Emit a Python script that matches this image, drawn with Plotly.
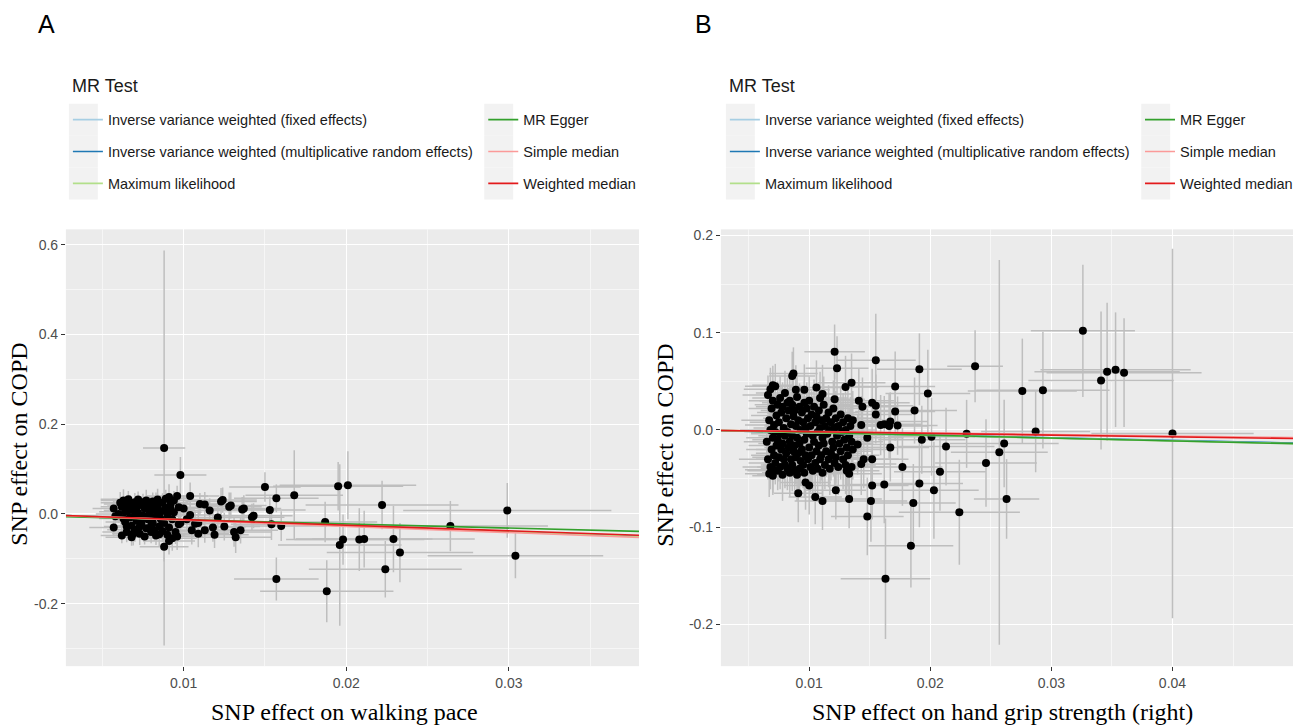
import plotly.graph_objects as go

W, H = 1298, 727
SANS = "Liberation Sans, Arial, sans-serif"
SERIF = "Liberation Serif, Times New Roman, serif"

# ---------------- MR methods ----------------
methods = [
    "Inverse variance weighted (fixed effects)",
    "Inverse variance weighted (multiplicative random effects)",
    "Maximum likelihood",
    "MR Egger",
    "Simple median",
    "Weighted median",
]
method_colors = ["#A6CEE3", "#1F78B4", "#B2DF8A", "#33A02C", "#FB9A99", "#E31A1C"]

# Panel A: walking pace -> COPD
a_intercept = [0.0, 0.0, 0.0, -0.0035, 0.0, 0.0]
a_slope = [-1.31, -1.31, -1.32, -0.93, -1.38, -1.25]

a_x = [
    0.0088, 0.0098, 0.0104, 0.0110, 0.0113, 0.0123, 0.0128, 0.0136, 0.0142, 0.0150,
    0.0157, 0.0168, 0.0153, 0.0154, 0.0160, 0.0187, 0.0195, 0.0201, 0.0222, 0.0264,
    0.0299, 0.0304, 0.0198, 0.0196, 0.0208, 0.0211, 0.0229, 0.0233, 0.0224, 0.0157,
    0.0188, 0.0091, 0.0097, 0.0104, 0.0107, 0.0105, 0.0109, 0.0113, 0.0118, 0.0119,
    0.0125, 0.0131, 0.0132, 0.0091, 0.0093, 0.0088, 0.0096, 0.0097, 0.0085, 0.0135,
    0.0143, 0.0129, 0.0137, 0.0124, 0.0100, 0.0092, 0.0098, 0.0109, 0.0116, 0.0121,
    0.0102,
    0.0057, 0.0058, 0.0061, 0.0057, 0.0062, 0.0063, 0.0064, 0.0064, 0.0065, 0.0066,
    0.0066, 0.0067, 0.0068, 0.0068, 0.0069, 0.0070, 0.0070, 0.0071, 0.0072, 0.0072,
    0.0073, 0.0074, 0.0074, 0.0075, 0.0076, 0.0076, 0.0077, 0.0077, 0.0078, 0.0079,
    0.0079, 0.0080, 0.0081, 0.0081, 0.0082, 0.0083, 0.0083, 0.0084, 0.0084, 0.0085,
    0.0086, 0.0086, 0.0087, 0.0087, 0.0088, 0.0089, 0.0089, 0.0090, 0.0091, 0.0092,
    0.0093, 0.0094, 0.0094, 0.0095, 0.0096, 0.0062, 0.0063, 0.0065, 0.0067, 0.0069,
    0.0071, 0.0073, 0.0075, 0.0078, 0.0080, 0.0082, 0.0085, 0.0088, 0.0090, 0.0060,
    0.0066, 0.0070, 0.0074, 0.0079, 0.0083,
]
a_y = [
    0.147, 0.087, 0.040, 0.022, 0.021, 0.028, 0.016, 0.010, -0.007, 0.060,
    0.035, 0.042, 0.009, -0.023, -0.027, -0.018, 0.062, 0.064, 0.020, -0.027,
    0.008, -0.093, -0.057, -0.069, -0.057, -0.056, -0.056, -0.086, -0.123, -0.145,
    -0.172, 0.038, 0.015, -0.002, -0.022, -0.036, -0.044, -0.036, -0.030, -0.046,
    -0.028, -0.040, -0.052, -0.060, -0.054, -0.073, -0.050, -0.023, -0.045, -0.036,
    -0.004, 0.019, 0.012, 0.031, 0.012, 0.011, -0.020, -0.020, 0.008, -0.008,
    -0.012,
    0.012, -0.005, 0.025, -0.030, -0.048, 0.030, 0.005, -0.018, -0.040, 0.018,
    0.033, -0.008, -0.026, -0.052, 0.010, 0.026, -0.035, -0.015, 0.032, 0.002,
    -0.044, 0.020, -0.022, -0.004, 0.012, -0.050, 0.030, -0.032, -0.012, 0.022,
    0.004, -0.040, 0.028, -0.020, 0.010, -0.005, -0.048, 0.032, 0.018, -0.028,
    -0.012, 0.006, 0.025, -0.038, -0.020, 0.014, 0.034, -0.002, -0.030, 0.022,
    -0.012, 0.030, 0.004, -0.040, 0.040, 0.016, -0.010, -0.028, 0.022, -0.044,
    0.014, -0.028, 0.026, 0.016, -0.026, -0.036, 0.000, 0.008, -0.046, 0.000,
    0.008, -0.002, -0.012, -0.004, 0.022,
]
a_se_x = [
    0.0013, 0.0016, 0.0018, 0.0020, 0.0018, 0.0022, 0.0020, 0.0021, 0.0020, 0.0022,
    0.0026, 0.0030, 0.0022, 0.0025, 0.0028, 0.0032, 0.0040, 0.0042, 0.0047, 0.0060,
    0.0064, 0.0054, 0.0035, 0.0038, 0.0040, 0.0042, 0.0050, 0.0045, 0.0047, 0.0026,
    0.0041, 0.0015, 0.0016, 0.0018, 0.0017, 0.0018, 0.0019, 0.0020, 0.0020, 0.0021,
    0.0022, 0.0023, 0.0022, 0.0016, 0.0015, 0.0015, 0.0016, 0.0016, 0.0014, 0.0023,
    0.0024, 0.0022, 0.0023, 0.0021, 0.0017, 0.0015, 0.0016, 0.0018, 0.0019, 0.0020,
    0.0017,
    0.0013, 0.0014, 0.0012, 0.0015, 0.0013, 0.0014, 0.0016, 0.0012, 0.0015, 0.0013,
    0.0017, 0.0014, 0.0012, 0.0016, 0.0015, 0.0013, 0.0017, 0.0014, 0.0016, 0.0012,
    0.0015, 0.0018, 0.0013, 0.0016, 0.0014, 0.0017, 0.0015, 0.0013, 0.0018, 0.0016,
    0.0014, 0.0017, 0.0015, 0.0019, 0.0013, 0.0016, 0.0018, 0.0014, 0.0017, 0.0015,
    0.0019, 0.0013, 0.0016, 0.0018, 0.0015, 0.0017, 0.0014, 0.0019, 0.0016, 0.0018,
    0.0015, 0.0020, 0.0017, 0.0016, 0.0019, 0.0013, 0.0015, 0.0014, 0.0016, 0.0013,
    0.0015, 0.0017, 0.0014, 0.0016, 0.0018, 0.0015, 0.0017, 0.0016, 0.0018, 0.0014,
    0.0015, 0.0013, 0.0016, 0.0015, 0.0017,
]
a_se_y = [
    0.440, 0.040, 0.030, 0.025, 0.028, 0.030, 0.032, 0.028, 0.030, 0.033,
    0.031, 0.100, 0.030, 0.035, 0.033, 0.045, 0.054, 0.076, 0.054, 0.056,
    0.061, 0.050, 0.056, 0.180, 0.070, 0.063, 0.074, 0.066, 0.063, 0.048,
    0.069, 0.028, 0.027, 0.030, 0.028, 0.032, 0.030, 0.028, 0.032, 0.030,
    0.031, 0.033, 0.035, 0.030, 0.028, 0.033, 0.030, 0.027, 0.028, 0.030,
    0.028, 0.029, 0.030, 0.028, 0.028, 0.027, 0.029, 0.030, 0.027, 0.030,
    0.026,
    0.022, 0.018, 0.024, 0.020, 0.017, 0.025, 0.021, 0.019, 0.023, 0.020,
    0.018, 0.026, 0.022, 0.019, 0.024, 0.021, 0.027, 0.020, 0.018, 0.023,
    0.025, 0.019, 0.022, 0.026, 0.020, 0.018, 0.024, 0.021, 0.027, 0.019,
    0.023, 0.025, 0.020, 0.022, 0.028, 0.019, 0.021, 0.024, 0.026, 0.020,
    0.023, 0.027, 0.021, 0.025, 0.022, 0.028, 0.020, 0.024, 0.026, 0.022,
    0.029, 0.021, 0.025, 0.027, 0.023, 0.019, 0.022, 0.024, 0.020, 0.026,
    0.021, 0.023, 0.019, 0.025, 0.022, 0.024, 0.027, 0.021, 0.025, 0.020,
    0.022, 0.024, 0.021, 0.023, 0.026,
]

# Panel B: hand grip strength (right) -> COPD
b_intercept = [0.0, 0.0, 0.0, 0.0004, 0.0, 0.0]
b_slope = [-0.27, -0.27, -0.28, -0.29, -0.155, -0.175]

b_x = [
    0.0121, 0.0123, 0.0155, 0.0191, 0.0087, 0.0086, 0.0135, 0.0130, 0.0070, 0.0089,
    0.0096, 0.0106, 0.0111, 0.0109, 0.0121, 0.0141, 0.0144, 0.0152, 0.0155, 0.0171,
    0.0171, 0.0187, 0.0155, 0.0143, 0.0159, 0.0162, 0.0166, 0.0173, 0.0237, 0.0276,
    0.0293, 0.0287, 0.0230, 0.0261, 0.0257, 0.0246, 0.0326, 0.0341, 0.0346, 0.0353,
    0.0360, 0.0400, 0.0198, 0.0167, 0.0193, 0.0201, 0.0213, 0.0167, 0.0177, 0.0208,
    0.0191, 0.0162, 0.0203, 0.0263, 0.0224, 0.0184, 0.0163, 0.0148, 0.0151, 0.0152,
    0.0186, 0.0133, 0.0122, 0.0111, 0.0105, 0.0091, 0.0097, 0.0100, 0.0070, 0.0133,
    0.0152, 0.0145, 0.0143, 0.0135, 0.0131, 0.0136, 0.0140, 0.0148,
    0.0066, 0.0067, 0.0065, 0.0066, 0.0067,
    0.0068, 0.0069, 0.0068, 0.0069, 0.0068,
    0.0070, 0.0071, 0.0070, 0.0071, 0.0070,
    0.0072, 0.0073, 0.0072, 0.0073, 0.0072,
    0.0074, 0.0075, 0.0074, 0.0075, 0.0074,
    0.0076, 0.0077, 0.0076, 0.0077, 0.0076,
    0.0078, 0.0079, 0.0078, 0.0079, 0.0078,
    0.0080, 0.0081, 0.0080, 0.0081, 0.0080,
    0.0082, 0.0083, 0.0082, 0.0083, 0.0082,
    0.0084, 0.0085, 0.0084, 0.0085, 0.0084,
    0.0086, 0.0087, 0.0086, 0.0087, 0.0086,
    0.0088, 0.0089, 0.0088, 0.0089, 0.0088,
    0.0090, 0.0091, 0.0090, 0.0091, 0.0090,
    0.0092, 0.0093, 0.0092, 0.0093, 0.0092,
    0.0094, 0.0095, 0.0094, 0.0095,
    0.0096, 0.0097, 0.0096, 0.0097, 0.0096,
    0.0098, 0.0099, 0.0098, 0.0099,
    0.0100, 0.0101, 0.0100, 0.0101,
    0.0102, 0.0103, 0.0102, 0.0103,
    0.0104, 0.0105, 0.0104, 0.0105,
    0.0106, 0.0107, 0.0106, 0.0107,
    0.0108, 0.0109, 0.0108, 0.0109,
    0.0110, 0.0111, 0.0110, 0.0111,
    0.0112, 0.0113, 0.0112, 0.0113,
    0.0114, 0.0115, 0.0114,
    0.0116, 0.0117, 0.0116, 0.0117,
    0.0118, 0.0119, 0.0118,
    0.0120, 0.0121, 0.0120, 0.0121,
    0.0122, 0.0123, 0.0122,
    0.0124, 0.0125, 0.0124,
    0.0126, 0.0127, 0.0126,
    0.0128, 0.0129, 0.0128,
    0.0130, 0.0131, 0.0130,
    0.0132, 0.0133, 0.0132,
    0.0134, 0.0135,
    0.0136,
]
b_y = [
    0.0805, 0.0635, 0.0717, 0.0624, 0.0580, 0.0556, 0.0487, 0.0443, 0.0460, 0.0415,
    0.0415, 0.0436, 0.0370, 0.0330, 0.0317, 0.0300, 0.0240, 0.0280, 0.0250, 0.0447,
    0.0190, 0.0200, 0.0160, 0.0050, 0.0050, 0.0060, 0.0040, 0.0045, 0.0655, 0.0400,
    0.0410, -0.0015, -0.0040, -0.0138, -0.0230, -0.0340, 0.1020, 0.0510, 0.0600, 0.0620,
    0.0590, -0.0036, 0.0375, 0.0087, -0.0100, -0.0070, -0.0170, -0.0180, -0.0380, -0.0430,
    -0.0550, -0.0560, -0.0620, -0.0710, -0.0846, -0.1190, -0.1530, -0.0890, -0.0730, -0.0570,
    -0.0750, -0.0710, -0.0620, -0.0730, -0.0690, -0.0650, -0.0540, -0.0570, -0.0470, -0.0450,
    -0.0300, -0.0300, -0.0350, -0.0380, -0.0420, 0.0100, -0.0150, -0.0080,
    0.036, 0.010, -0.012, -0.030, -0.045,
    0.042, 0.022, 0.000, -0.020, -0.038,
    0.030, 0.005, -0.008, -0.026, -0.041,
    0.045, 0.015, -0.002, -0.016, -0.034,
    0.026, 0.008, -0.010, -0.028, -0.042,
    0.033, 0.018, -0.004, -0.020, -0.038,
    0.024, 0.002, -0.014, -0.030, -0.046,
    0.038, 0.012, -0.006, -0.024, -0.036,
    0.028, 0.020, -0.002, -0.018, -0.040,
    0.030, 0.006, -0.012, -0.030, -0.044,
    0.026, 0.014, -0.006, -0.022, -0.036,
    0.020, 0.004, -0.016, -0.028, -0.042,
    0.034, 0.010, -0.008, -0.024, -0.046,
    0.024, 0.000, -0.014, -0.032, -0.040,
    0.018, 0.008, -0.020, -0.036,
    0.028, 0.002, -0.010, -0.026, -0.044,
    0.022, 0.012, -0.004, -0.030,
    0.030, 0.004, -0.018, -0.038,
    0.016, -0.006, -0.026, -0.042,
    0.024, 0.008, -0.012, -0.034,
    0.014, -0.002, -0.022, -0.040,
    0.020, 0.002, -0.016, -0.030,
    0.010, -0.008, -0.026, -0.044,
    0.026, 0.004, -0.014, -0.036,
    0.012, -0.004, -0.022,
    0.018, 0.000, -0.030, -0.040,
    0.008, -0.012, -0.024,
    0.022, 0.002, -0.018, -0.034,
    0.012, -0.006, -0.028,
    0.004, -0.014, -0.038,
    0.016, -0.002, -0.022,
    0.008, -0.010, -0.030,
    0.000, -0.018, -0.036,
    0.012, -0.006, -0.026,
    0.004, -0.012,
    -0.020,
]
b_se_x = [
    0.0025, 0.0026, 0.0033, 0.0035, 0.0020, 0.0019, 0.0028, 0.0027, 0.0017, 0.0020,
    0.0021, 0.0023, 0.0024, 0.0023, 0.0025, 0.0029, 0.0029, 0.0031, 0.0031, 0.0033,
    0.0033, 0.0035, 0.0030, 0.0028, 0.0030, 0.0031, 0.0032, 0.0033, 0.0023, 0.0045,
    0.0055, 0.0045, 0.0040, 0.0045, 0.0040, 0.0042, 0.0043, 0.0060, 0.0060, 0.0062,
    0.0064, 0.0067, 0.0035, 0.0031, 0.0036, 0.0036, 0.0040, 0.0032, 0.0033, 0.0038,
    0.0036, 0.0032, 0.0037, 0.0027, 0.0050, 0.0035, 0.0037, 0.0030, 0.0030, 0.0030,
    0.0035, 0.0027, 0.0025, 0.0023, 0.0022, 0.0020, 0.0021, 0.0021, 0.0017, 0.0027,
    0.0030, 0.0029, 0.0029, 0.0027, 0.0027, 0.0028, 0.0028, 0.0030,
    0.0021, 0.0023, 0.0019, 0.0024, 0.0020,
    0.0022, 0.0019, 0.0025, 0.0021, 0.0023,
    0.0020, 0.0024, 0.0022, 0.0019, 0.0023,
    0.0025, 0.0021, 0.0020, 0.0023, 0.0022,
    0.0019, 0.0024, 0.0021, 0.0022, 0.0025,
    0.0023, 0.0020, 0.0024, 0.0021, 0.0019,
    0.0022, 0.0025, 0.0020, 0.0023, 0.0021,
    0.0024, 0.0019, 0.0022, 0.0025, 0.0020,
    0.0021, 0.0023, 0.0026, 0.0020, 0.0022,
    0.0025, 0.0021, 0.0019, 0.0024, 0.0023,
    0.0020, 0.0022, 0.0025, 0.0021, 0.0024,
    0.0023, 0.0026, 0.0020, 0.0022, 0.0019,
    0.0024, 0.0021, 0.0023, 0.0025, 0.0020,
    0.0022, 0.0024, 0.0021, 0.0026, 0.0023,
    0.0025, 0.0020, 0.0023, 0.0022,
    0.0021, 0.0024, 0.0026, 0.0020, 0.0023,
    0.0022, 0.0025, 0.0021, 0.0024,
    0.0026, 0.0022, 0.0024, 0.0021,
    0.0023, 0.0025, 0.0020, 0.0024,
    0.0022, 0.0026, 0.0023, 0.0021,
    0.0025, 0.0022, 0.0024, 0.0026,
    0.0021, 0.0024, 0.0023, 0.0025,
    0.0026, 0.0022, 0.0024, 0.0023,
    0.0024, 0.0027, 0.0022, 0.0025,
    0.0023, 0.0026, 0.0024,
    0.0025, 0.0022, 0.0027, 0.0024,
    0.0026, 0.0023, 0.0025,
    0.0024, 0.0027, 0.0025, 0.0023,
    0.0026, 0.0024, 0.0027,
    0.0025, 0.0028, 0.0024,
    0.0027, 0.0025, 0.0026,
    0.0028, 0.0024, 0.0027,
    0.0026, 0.0028, 0.0025,
    0.0027, 0.0029, 0.0026,
    0.0028, 0.0026,
    0.0029,
]
b_se_y = [
    0.028, 0.033, 0.048, 0.037, 0.027, 0.025, 0.030, 0.032, 0.020, 0.025,
    0.026, 0.028, 0.030, 0.027, 0.029, 0.033, 0.030, 0.035, 0.032, 0.036,
    0.030, 0.034, 0.030, 0.030, 0.031, 0.029, 0.033, 0.030, 0.037, 0.054,
    0.060, 0.042, 0.035, 0.045, 0.198, 0.045, 0.068, 0.071, 0.071, 0.059,
    0.056, 0.190, 0.045, 0.030, 0.035, 0.040, 0.040, 0.035, 0.040, 0.040,
    0.045, 0.040, 0.050, 0.041, 0.054, 0.043, 0.062, 0.040, 0.042, 0.035,
    0.040, 0.030, 0.030, 0.030, 0.028, 0.030, 0.028, 0.030, 0.020, 0.030,
    0.030, 0.030, 0.032, 0.030, 0.030, 0.030, 0.031, 0.030,
    0.020, 0.023, 0.018, 0.021, 0.024,
    0.022, 0.019, 0.024, 0.020, 0.023,
    0.021, 0.025, 0.019, 0.022, 0.024,
    0.023, 0.020, 0.026, 0.021, 0.022,
    0.024, 0.021, 0.023, 0.025, 0.020,
    0.022, 0.026, 0.020, 0.024, 0.023,
    0.025, 0.022, 0.024, 0.021, 0.027,
    0.023, 0.020, 0.025, 0.022, 0.024,
    0.026, 0.023, 0.021, 0.025, 0.022,
    0.024, 0.027, 0.022, 0.023, 0.025,
    0.021, 0.024, 0.026, 0.023, 0.027,
    0.025, 0.022, 0.024, 0.028, 0.023,
    0.023, 0.026, 0.025, 0.022, 0.027,
    0.024, 0.028, 0.023, 0.025, 0.026,
    0.026, 0.023, 0.027, 0.024,
    0.022, 0.025, 0.028, 0.024, 0.026,
    0.027, 0.024, 0.026, 0.029,
    0.025, 0.028, 0.023, 0.026,
    0.024, 0.027, 0.029, 0.025,
    0.028, 0.025, 0.027, 0.024,
    0.026, 0.029, 0.025, 0.028,
    0.027, 0.024, 0.028, 0.026,
    0.025, 0.029, 0.026, 0.028,
    0.029, 0.026, 0.028, 0.025,
    0.027, 0.030, 0.026,
    0.028, 0.025, 0.029, 0.027,
    0.026, 0.030, 0.028,
    0.029, 0.027, 0.030, 0.026,
    0.028, 0.031, 0.027,
    0.030, 0.027, 0.029,
    0.028, 0.031, 0.029,
    0.030, 0.028, 0.031,
    0.029, 0.032, 0.030,
    0.031, 0.029, 0.032,
    0.030, 0.033,
    0.031,
]

# ---------------- axes (ticks) ----------------
a_xrange = [0.00276, 0.0380]
a_yrange = [-0.339, 0.634]
a_xticks = [0.01, 0.02, 0.03]
a_xticktext = ["0.01", "0.02", "0.03"]
a_xminor = [0.005, 0.015, 0.025, 0.035]
a_yticks = [-0.2, 0.0, 0.2, 0.4, 0.6]
a_yticktext = ["-0.2", "0.0", "0.2", "0.4", "0.6"]
a_yminor = [-0.3, -0.1, 0.1, 0.3, 0.5]

b_xrange = [0.00271, 0.04995]
b_yrange = [-0.243, 0.2064]
b_xticks = [0.01, 0.02, 0.03, 0.04]
b_xticktext = ["0.01", "0.02", "0.03", "0.04"]
b_xminor = [0.005, 0.015, 0.025, 0.035, 0.045]
b_yticks = [-0.2, -0.1, 0.0, 0.1, 0.2]
b_yticktext = ["-0.2", "-0.1", "0.0", "0.1", "0.2"]
b_yminor = [-0.15, -0.05, 0.05, 0.15]

fig = go.Figure()


def add_panel(xs, ys, sxs, sys_, ints, slopes, xr, xa, ya, leg1, leg2):
    fig.add_trace(go.Scatter(
        x=xs, y=ys, mode="markers", xaxis=xa, yaxis=ya, showlegend=False,
        marker=dict(color="black", size=8, line=dict(width=0)),
        error_x=dict(type="data", array=sxs, color="#BEBEBE", thickness=1.5, width=0),
        error_y=dict(type="data", array=sys_, color="#BEBEBE", thickness=1.5, width=0),
        hoverinfo="skip",
    ))
    for i, (m, c, a, b) in enumerate(zip(methods, method_colors, ints, slopes)):
        fig.add_trace(go.Scatter(
            x=[xr[0], xr[1]], y=[a + b * xr[0], a + b * xr[1]],
            mode="lines", line=dict(color=c, width=1.6), name=m,
            legend=leg1 if i < 3 else leg2, legendgroup=f"{xa}{i}",
            xaxis=xa, yaxis=ya,
        ))


add_panel(a_x, a_y, a_se_x, a_se_y, a_intercept, a_slope, a_xrange, "x", "y", "legend", "legend2")
add_panel(b_x, b_y, b_se_x, b_se_y, b_intercept, b_slope, b_xrange, "x2", "y2", "legend3", "legend4")


def ax(domain, rng, ticks, text, minor):
    return dict(
        domain=domain, range=rng, tickmode="array", tickvals=ticks, ticktext=text,
        showgrid=True, gridcolor="white", gridwidth=1.4, zeroline=False, showline=False,
        ticks="outside", ticklen=4, tickwidth=1, tickcolor="#333333",
        tickfont=dict(family=SANS, size=14, color="#4D4D4D"),
        minor=dict(tickmode="array", tickvals=minor, showgrid=True,
                   gridcolor="#F6F6F6", gridwidth=0.7, ticks=""),
    )


ydom = [1 - 666 / H, 1 - 228 / H]
leg_common = dict(bgcolor="rgba(0,0,0,0)", borderwidth=0, traceorder="grouped",
                  tracegroupgap=10, itemwidth=30, yanchor="top", xanchor="left",
                  font=dict(family=SANS, size=14.5, color="#1A1A1A"))

fig.update_layout(
    width=W, height=H, margin=dict(l=0, r=0, t=0, b=0),
    paper_bgcolor="white", plot_bgcolor="#EBEBEB",
    xaxis=ax([66 / W, 640 / W], a_xrange, a_xticks, a_xticktext, a_xminor),
    yaxis=ax(ydom, a_yrange, a_yticks, a_yticktext, a_yminor),
    xaxis2=dict(anchor="y2", **ax([722 / W, 1295 / W], b_xrange, b_xticks, b_xticktext, b_xminor)),
    yaxis2=dict(anchor="x2", **ax(ydom, b_yrange, b_yticks, b_yticktext, b_yminor)),
    legend=dict(x=68 / W, y=1 - 102 / H, **leg_common),
    legend2=dict(x=484 / W, y=1 - 102 / H, **leg_common),
    legend3=dict(x=726 / W, y=1 - 102 / H, **leg_common),
    legend4=dict(x=1142 / W, y=1 - 102 / H, **leg_common),
    showlegend=True,
)

# grey legend key backgrounds
for kx in (69, 485, 727, 1143):
    for r in range(3):
        fig.add_shape(type="rect", xref="paper", yref="paper",
                      x0=kx / W, x1=(kx + 29) / W,
                      y0=1 - (134 + 32 * r) / H, y1=1 - (102 + 32 * r) / H,
                      fillcolor="#F2F2F2", line=dict(width=0), layer="below")

ann = [
    dict(text="A", x=47, y=22, size=25, family=SANS, angle=0),
    dict(text="B", x=705, y=22, size=25, family=SANS, angle=0),
    dict(text="SNP effect on walking pace", x=345, y=712, size=24, family=SERIF, angle=0),
    dict(text="SNP effect on hand grip strength (right)", x=1004, y=712, size=24, family=SERIF, angle=0),
    dict(text="SNP effect on COPD", x=19, y=443, size=24, family=SERIF, angle=-90),
    dict(text="SNP effect on COPD", x=666, y=444, size=24, family=SERIF, angle=-90),
]
for a in ann:
    fig.add_annotation(text=a["text"], xref="paper", yref="paper", x=a["x"] / W, y=1 - a["y"] / H,
                       xanchor="center", yanchor="middle", showarrow=False, textangle=a["angle"],
                       font=dict(family=a["family"], size=a["size"], color="black"))
for tx in (70, 728):
    fig.add_annotation(text="MR Test", xref="paper", yref="paper", x=tx / W, y=1 - 84 / H,
                       xanchor="left", yanchor="middle", showarrow=False,
                       font=dict(family=SANS, size=18, color="#1A1A1A"))

fig.write_html("out.html")
